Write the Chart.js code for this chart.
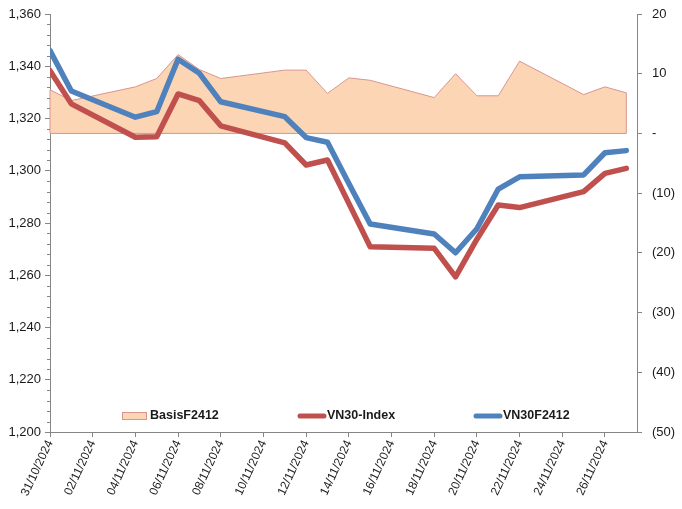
<!DOCTYPE html>
<html><head><meta charset="utf-8">
<script src="https://cdn.jsdelivr.net/npm/chart.js@4.4.1/dist/chart.umd.min.js"></script>
<style>html,body{margin:0;padding:0;background:#fff}#wrap{width:682px;height:509px}</style>
</head><body><div id="wrap"><canvas id="c" width="682" height="509"></canvas></div>
<script>
// ---- data ----
const dates = ['31/10/2024','01/11/2024','04/11/2024','05/11/2024','06/11/2024','07/11/2024','08/11/2024',
  '11/11/2024','12/11/2024','13/11/2024','14/11/2024','15/11/2024','18/11/2024','19/11/2024','20/11/2024',
  '21/11/2024','22/11/2024','25/11/2024','26/11/2024','27/11/2024'];
const xTickLabels = ['31/10/2024','02/11/2024','04/11/2024','06/11/2024','08/11/2024','10/11/2024','12/11/2024',
  '14/11/2024','16/11/2024','18/11/2024','20/11/2024','22/11/2024','24/11/2024','26/11/2024'];
const basisF2412 = [7.3, 5.5, 7.8, 9.2, 13.2, 10.7, 9.2, 10.6, 10.6, 6.7, 9.3, 8.9, 6.0, 10.0, 6.3, 6.3, 12.1, 6.5, 7.8, 6.8];
const vn30Index  = [1338.3, 1325.6, 1312.8, 1313.0, 1329.4, 1326.8, 1317.2, 1310.7, 1302.2, 1304.1, 1287.5, 1270.9,
  1270.3, 1259.4, 1273.8, 1286.9, 1285.9, 1292.0, 1299.0, 1300.9];
const vn30F2412  = [1346.0, 1330.5, 1320.5, 1322.6, 1342.7, 1337.3, 1326.4, 1320.7, 1312.7, 1310.9, 1295.1, 1279.6,
  1275.8, 1268.6, 1277.8, 1293.0, 1297.7, 1298.4, 1306.9, 1307.7];
const seriesNames = ['BasisF2412', 'VN30-Index', 'VN30F2412'];

function dayOffset(s){ const [d,m,y] = s.split('/').map(Number); return Math.round((Date.UTC(y,m-1,d) - Date.UTC(2024,9,31)) / 86400000); }
const xs = dates.map(dayOffset);
const pts = arr => arr.map((v,i) => ({x: xs[i], y: v}));

const FONT = "'Liberation Sans', Arial, sans-serif";
Chart.defaults.font.family = FONT;
Chart.defaults.color = '#1a1a1a';
const AXIS = '#868686';
const C_AREA = '#FCD5B5', C_AREA_B = '#D9958F', C_RED = '#C0504D', C_BLUE = '#4F81BD';

const minorTicks = {
  id: 'minorTicks',
  afterDraw(chart){
    const s = chart.scales.y, ctx = chart.ctx;
    ctx.save(); ctx.strokeStyle = AXIS; ctx.lineWidth = 1;
    for (let v = s.min; v <= s.max; v += 4) {
      if (v % 20 === 0) continue;
      const y = Math.round(s.getPixelForValue(v)) + 0.5;
      ctx.beginPath(); ctx.moveTo(s.right - 3, y); ctx.lineTo(s.right, y); ctx.stroke();
    }
    ctx.restore();
  }
};

// closes the area outline (base line and end edges), like the spreadsheet original
const areaOutline = {
  id: 'areaOutline',
  afterDatasetDraw(chart, args){
    if (args.index !== 0) return;
    const meta = chart.getDatasetMeta(0), ctx = chart.ctx;
    const p = meta.data; if (!p.length) return;
    const y0 = chart.scales.y1.getPixelForValue(0);
    ctx.save(); ctx.strokeStyle = C_AREA_B; ctx.lineWidth = 1;
    ctx.beginPath();
    ctx.moveTo(p[0].x, p[0].y); ctx.lineTo(p[0].x, y0);
    ctx.lineTo(p[p.length-1].x, y0); ctx.lineTo(p[p.length-1].x, p[p.length-1].y);
    ctx.stroke(); ctx.restore();
  }
};

const customLegend = {
  id: 'customLegend',
  afterDraw(chart){
    const ctx = chart.ctx, a = chart.chartArea;
    const y = a.bottom - 16;
    const ds = chart.data.datasets;
    const xsL = [a.left + 72, a.left + 248, a.left + 424];
    ctx.save();
    ctx.font = "bold 12.5px " + FONT; ctx.textBaseline = 'middle';
    ds.forEach((d, i) => {
      const x0 = xsL[i];
      if (i === 0) {
        ctx.fillStyle = d.backgroundColor; ctx.fillRect(x0, y - 3.5, 24, 7);
        ctx.strokeStyle = d.borderColor; ctx.lineWidth = 1; ctx.strokeRect(x0 + 0.5, y - 3.5, 24, 7);
      } else {
        ctx.strokeStyle = d.borderColor; ctx.lineWidth = 5; ctx.lineCap = 'round';
        ctx.beginPath(); ctx.moveTo(x0 + 2, y); ctx.lineTo(x0 + 26, y); ctx.stroke();
      }
      ctx.fillStyle = '#1a1a1a';
      ctx.fillText(d.label, x0 + (i === 0 ? 28 : 29), y);
    });
    ctx.restore();
  }
};

new Chart(document.getElementById('c'), {
  type: 'line',
  data: {
    datasets: [
      { label: seriesNames[0], data: pts(basisF2412), yAxisID: 'y1', fill: 'origin',
        backgroundColor: C_AREA, borderColor: C_AREA_B, borderWidth: 1, pointRadius: 0, tension: 0, order: 3 },
      { label: seriesNames[1], data: pts(vn30Index), yAxisID: 'y', fill: false,
        borderColor: C_RED, backgroundColor: C_RED, borderWidth: 5.5, pointRadius: 0, tension: 0, order: 2,
        borderCapStyle: 'round', borderJoinStyle: 'round' },
      { label: seriesNames[2], data: pts(vn30F2412), yAxisID: 'y', fill: false,
        borderColor: C_BLUE, backgroundColor: C_BLUE, borderWidth: 5.5, pointRadius: 0, tension: 0, order: 1,
        borderCapStyle: 'round', borderJoinStyle: 'round' }
    ]
  },
  options: {
    responsive: false, animation: false,
    layout: { padding: { top: 14, left: 0, right: 0, bottom: 0 } },
    plugins: { legend: { display: false }, tooltip: { enabled: false } },
    scales: {
      x: {
        type: 'linear', position: 'bottom', min: 0, max: 27.5,
        ticks: { stepSize: 2, includeBounds: false, autoSkip: false, minRotation: 65, maxRotation: 65,
          font: { size: 12 }, padding: 1,
          callback: v => (Number.isInteger(v / 2) && xTickLabels[v / 2]) ? xTickLabels[v / 2] : '' },
        grid: { drawOnChartArea: false, color: AXIS, tickLength: 5 },
        border: { color: AXIS },
        afterFit: s => { s.height = 77; }
      },
      y: {
        position: 'left', min: 1200, max: 1360,
        ticks: { stepSize: 20, font: { size: 13 }, padding: 4, callback: v => v.toLocaleString('en-US') },
        grid: { drawOnChartArea: false, color: AXIS, tickLength: 5 },
        border: { color: AXIS },
        afterFit: s => { s.width = 50; s.paddingTop = 7; s.paddingBottom = 7; }
      },
      y1: {
        position: 'right', min: -50, max: 20,
        ticks: { stepSize: 10, font: { size: 13 }, padding: 10,
          callback: v => v === 0 ? '-' : (v < 0 ? '(' + (-v) + ')' : String(v)) },
        grid: { drawOnChartArea: false, color: AXIS, tickLength: 5 },
        border: { color: AXIS },
        afterFit: s => { s.width = 45; s.paddingTop = 7; s.paddingBottom = 7; }
      }
    }
  },
  plugins: [minorTicks, areaOutline, customLegend]
});
</script>
</body></html>
